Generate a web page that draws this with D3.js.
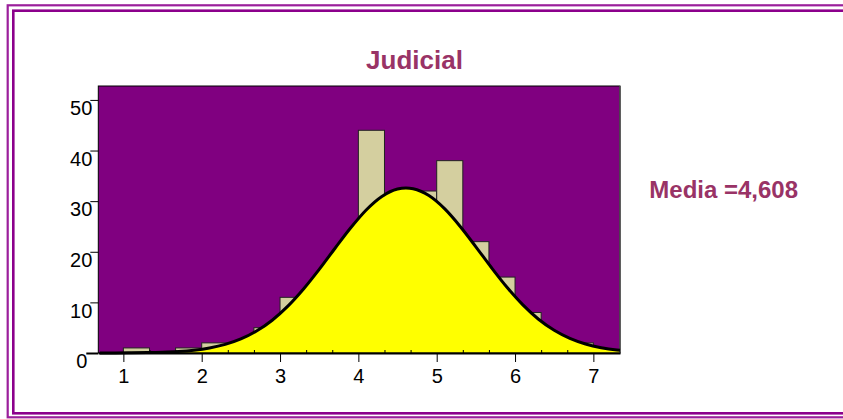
<!DOCTYPE html>
<meta charset="utf-8">
<title>Judicial</title>
<script src="https://d3js.org/d3.v7.min.js"></script>
<style>
  body { margin: 0; background: #fff; }
  text { font-family: Arial, "Liberation Sans", sans-serif; }
  .title { font-size: 26px; font-weight: bold; fill: #993366; text-anchor: middle; }
  .legend { font-size: 24px; font-weight: bold; fill: #993366; }
</style>
<div id="chart"></div>
<script>
// histogram bins (width 1/3) and counts
var binStart = [1, 4/3, 5/3, 2, 7/3, 8/3, 3, 10/3, 11/3, 4, 13/3, 14/3, 5, 16/3, 17/3, 6, 19/3, 20/3];
var counts   = [1, 0,   1,   2, 2,   5,   11, 10,   15,   44, 22,   32,   38, 22,   15,   8, 3,    2];
var binWidth = 1 / 3;

// normal curve
var curveX = [0.7, 0.9, 1.1, 1.3, 1.5, 1.7, 1.9, 2.1, 2.3, 2.5, 2.7, 2.9, 3.1, 3.3, 3.5, 3.7, 3.9, 4.1, 4.3, 4.5, 4.608,
              4.7, 4.9, 5.1, 5.3, 5.5, 5.7, 5.9, 6.1, 6.3, 6.5, 6.7, 6.9, 7.1, 7.3, 7.34];
var curveY = [0.01, 0.02, 0.04, 0.08, 0.16, 0.30, 0.56, 1.00, 1.70, 2.78, 4.34, 6.48, 9.25, 12.64, 16.51, 20.65, 24.69, 28.26, 30.93, 32.39, 32.6,
              32.45, 31.10, 28.51, 25.00, 20.98, 16.84, 12.93, 9.50, 6.67, 4.49, 2.89, 1.78, 1.04, 0.59, 0.53];

var xTicks = [1, 2, 3, 4, 5, 6, 7];
var yTicks = [0, 10, 20, 30, 40, 50];
var titleText = "Judicial";
var legendText = "Media =4,608";

var W = 843, H = 419;
var plot = {left: 98.3, right: 620, top: 86, bottom: 353};

var svg = d3.select("#chart").append("svg")
    .attr("width", W)
    .attr("height", H);

// double frame
svg.append("rect")
    .attr("x", 7.7).attr("y", 5.3)
    .attr("width", 860).attr("height", 412)
    .attr("fill", "none")
    .attr("stroke", "#9b1f9b")
    .attr("stroke-width", 2.2);
svg.append("rect")
    .attr("x", 13.3).attr("y", 10.7)
    .attr("width", 860).attr("height", 402.6)
    .attr("fill", "none")
    .attr("stroke", "#8c008c")
    .attr("stroke-width", 2.6);

var x = d3.scaleLinear().domain([0.68, 7.34]).range([plot.left, plot.right]);
var y = d3.scaleLinear().domain([0, 52.75]).range([plot.bottom, plot.top]);

// plot background
svg.append("rect")
    .attr("x", plot.left).attr("y", plot.top)
    .attr("width", plot.right - plot.left)
    .attr("height", plot.bottom - plot.top)
    .attr("fill", "#800080");

var bins = binStart.map(function(d, i) { return {x0: d, n: counts[i]}; });

svg.selectAll("rect.bar")
    .data(bins.filter(function(d) { return d.n > 0; }))
    .enter().append("rect")
    .attr("class", "bar")
    .attr("x", function(d) { return x(d.x0); })
    .attr("y", function(d) { return y(d.n); })
    .attr("width", function(d) { return x(d.x0 + binWidth) - x(d.x0); })
    .attr("height", function(d) { return y(0) - y(d.n); })
    .attr("fill", "#d4cf9f")
    .attr("stroke", "#222")
    .attr("stroke-width", 1);

var pts = curveX.map(function(d, i) { return [d, curveY[i]]; });

svg.append("path")
    .datum(pts)
    .attr("fill", "#ffff00")
    .attr("d", d3.area()
        .x(function(d) { return x(d[0]); })
        .y0(y(0))
        .y1(function(d) { return y(d[1]); })
        .curve(d3.curveMonotoneX));

// frame of the plot area
svg.append("rect")
    .attr("x", plot.left).attr("y", plot.top)
    .attr("width", plot.right - plot.left)
    .attr("height", plot.bottom - plot.top)
    .attr("fill", "none")
    .attr("stroke", "#000")
    .attr("stroke-width", 1);
svg.append("line")
    .attr("x1", plot.right).attr("x2", plot.right)
    .attr("y1", plot.top).attr("y2", plot.bottom)
    .attr("stroke", "#555").attr("stroke-width", 1.5);

svg.append("path")
    .datum(pts)
    .attr("fill", "none")
    .attr("stroke", "#000")
    .attr("stroke-width", 3)
    .attr("d", d3.line()
        .x(function(d) { return x(d[0]); })
        .y(function(d) { return y(d[1]); })
        .curve(d3.curveMonotoneX));

// minor ticks at bin edges
var minor = binStart.concat([7]).filter(function(d) { return xTicks.indexOf(d) < 0; });
svg.append("g")
    .attr("transform", "translate(0," + y(0) + ")")
    .call(d3.axisBottom(x).tickValues(minor).tickSize(-3).tickFormat(""))
    .call(function(g) { g.select(".domain").remove(); });

// x axis
var gx = svg.append("g")
    .attr("transform", "translate(0," + y(0) + ")")
    .call(d3.axisBottom(x).tickValues(xTicks).tickFormat(d3.format("d"))
        .tickSize(9).tickSizeOuter(0));
gx.select(".domain").attr("stroke-width", 2);
gx.selectAll(".tick text")
    .attr("font-size", 20)
    .attr("font-family", "Arial, 'Liberation Sans', sans-serif")
    .attr("dy", "0.71em").attr("y", 16);

// y axis
var gy = svg.append("g")
    .attr("transform", "translate(" + plot.left + ",0)")
    .call(d3.axisLeft(y).tickValues(yTicks).tickSize(8).tickPadding(-2));
gy.select(".domain").remove();
gy.selectAll(".tick text")
    .attr("font-size", 20)
    .attr("font-family", "Arial, 'Liberation Sans', sans-serif")
    .attr("dy", "0.74em");
gy.selectAll(".tick").filter(function(d) { return d === 0; })
    .call(function(t) {
        t.select("line").attr("x2", -12).attr("stroke-width", 2);
        t.select("text").attr("x", -11);
    });

svg.append("text")
    .attr("class", "title")
    .attr("x", 414.5)
    .attr("y", 69.3)
    .text(titleText);

svg.append("text")
    .attr("class", "legend")
    .attr("x", 649.3)
    .attr("y", 197.7)
    .text(legendText);
</script>
